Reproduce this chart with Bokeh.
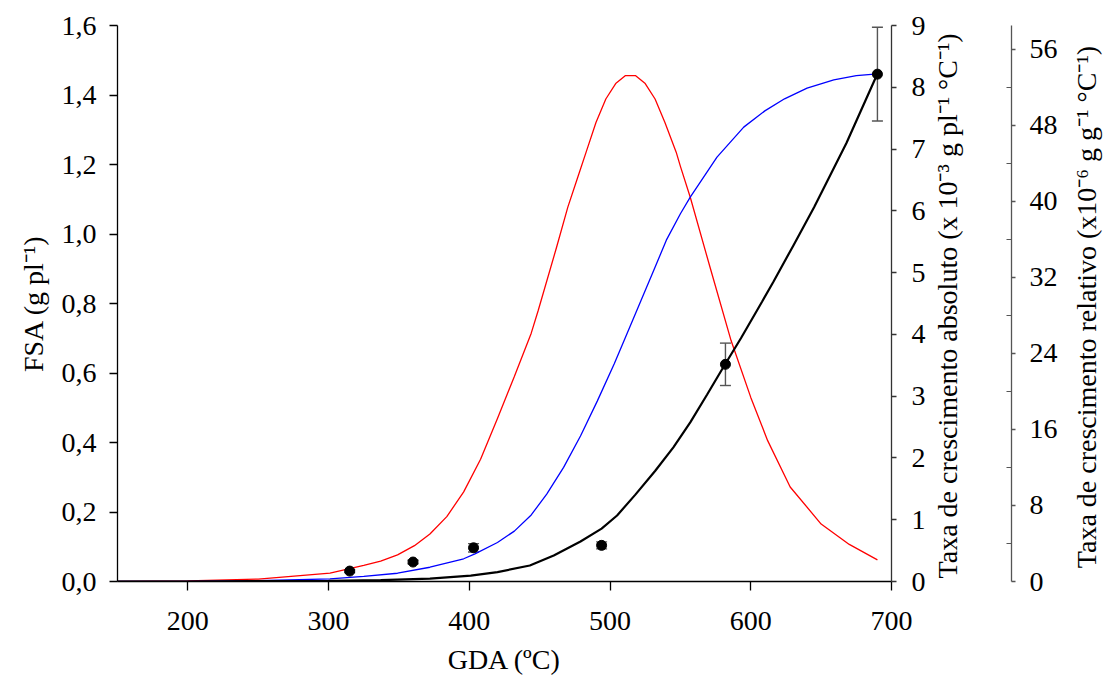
import math
from bokeh.plotting import figure
from bokeh.models import (LinearAxis, Range1d, FixedTicker, CustomJSTickFormatter,
                          ColumnDataSource, Whisker, TeeHead)
from bokeh.embed import file_html
from bokeh.resources import INLINE

# ---- data ----
# fitted FSA curve (g pl-1), left axis
gda_fit_fsa = [150, 200, 250, 300, 337, 372, 401, 420, 443, 460, 479, 494, 505, 518,
               532, 545, 557, 569, 581, 593, 608, 616, 630, 645, 668, 690]
fsa_fit = [0.000, 0.000, 0.001, 0.002, 0.004, 0.008, 0.017, 0.027, 0.046, 0.075, 0.115,
           0.152, 0.190, 0.250, 0.318, 0.386, 0.458, 0.538, 0.620, 0.700, 0.805, 0.862,
           0.965, 1.077, 1.262, 1.461]

# absolute growth rate (x10-3 g pl-1 C-1), right axis 1
gda_fit_tca = [150, 200, 250, 301, 325, 337, 349, 361, 372, 384, 396, 408, 420, 432, 444,
               449, 462, 470, 477, 483, 490, 497, 504, 511, 518, 525, 532, 539, 547, 550,
               557, 571, 586, 600, 612, 628, 650, 670, 690]
tca_fit = [0.00, 0.01, 0.04, 0.134, 0.26, 0.33, 0.43, 0.58, 0.77, 1.05, 1.45, 1.98, 2.64,
           3.32, 4.02, 4.39, 5.41, 6.06, 6.54, 6.95, 7.43, 7.81, 8.06, 8.19, 8.19, 8.06,
           7.81, 7.43, 6.95, 6.72, 6.22, 5.09, 3.90, 2.98, 2.28, 1.53, 0.93, 0.60, 0.35]

# relative growth rate (x10-6 g g-1 C-1), right axis 2
gda_fit_tcr = [150, 200, 250, 301, 325, 349, 372, 396, 404, 420, 432, 444, 455, 467, 479,
               491, 503, 510, 522, 531, 540, 550, 557, 576, 595, 610, 624, 640, 659, 675,
               690]
tcr_fit = [0.0, 0.02, 0.08, 0.28, 0.53, 0.87, 1.5, 2.39, 2.9, 4.1, 5.3, 7.0, 9.2, 12.0,
           15.3, 19.0, 22.9, 25.35, 29.56, 32.7, 35.9, 38.68, 40.42, 44.63, 47.79, 49.5,
           50.77, 51.9, 52.77, 53.2, 53.4]

# observed FSA with error
gda_obs = [315, 360, 403, 494, 582, 690]
fsa_obs = [0.030, 0.056, 0.097, 0.104, 0.625, 1.460]
fsa_err = [0.004, 0.005, 0.012, 0.010, 0.061, 0.135]

x_ticks = [200, 300, 400, 500, 600, 700]
fsa_ticks = [0.0, 0.2, 0.4, 0.6, 0.8, 1.0, 1.2, 1.4, 1.6]
tca_ticks = [0, 1, 2, 3, 4, 5, 6, 7, 8, 9]
tcr_ticks = [0, 8, 16, 24, 32, 40, 48, 56]
tcr_minor = [4, 12, 20, 28, 36, 44, 52]

title_abs = "Taxa de crescimento absoluto (x 10\u207b\u00b3 g pl\u207b\u00b9 \u00b0C\u207b\u00b9)"
title_rel = "Taxa de crescimento relativo (x10\u207b\u2076 g g\u207b\u00b9 \u00b0C\u207b\u00b9)"

X0, X1 = 150, 700
FW, FH = 774, 556

FONT = "Liberation Serif"
TICK_FS = "28px"
LAB_FS = "28px"
RLAB_FS = "28px"

p = figure(frame_width=FW, frame_height=FH,
           x_range=Range1d(X0, X1), y_range=Range1d(0, 1.6),
           output_backend="svg", toolbar_location=None,
           min_border_left=117, min_border_top=25, min_border_bottom=96,
           min_border_right=0)
p.extra_y_ranges = {"abs": Range1d(0, 9), "rel": Range1d(0, 58.48)}
p.grid.visible = False
p.outline_line_color = None


def style(ax, color="black"):
    ax.axis_line_color = color
    ax.major_tick_line_color = color
    ax.minor_tick_line_color = color
    ax.axis_line_width = 1.3
    ax.major_tick_line_width = 1.3
    ax.minor_tick_line_width = 1.2
    ax.major_label_text_font = FONT
    ax.major_label_text_font_size = TICK_FS
    ax.major_label_text_color = "black"
    ax.axis_label_text_font = FONT
    ax.axis_label_text_font_size = LAB_FS
    ax.axis_label_text_font_style = "normal"
    ax.axis_label_text_color = "black"
    ax.minor_tick_in = 0
    ax.minor_tick_out = 0
    ax.major_tick_in = 0


def bare(ax):
    ax.axis_line_color = None
    ax.major_tick_out = 0
    ax.major_tick_in = 0
    ax.minor_tick_out = 0
    ax.minor_tick_in = 0


def spacer(gap):
    s = LinearAxis(y_range_name="abs", ticker=FixedTicker(ticks=[]))
    bare(s)
    s.major_label_text_font_size = "1px"
    s.major_label_standoff = 0
    s.axis_label = " "
    s.axis_label_text_font_size = "10px"
    s.axis_label_standoff = gap
    return s


def title_axis(range_name, start, text, standoff):
    # an axis whose only tick label is the (bottom-to-top) title text
    a = LinearAxis(y_range_name=range_name, ticker=FixedTicker(ticks=[start]),
                   formatter=CustomJSTickFormatter(args=dict(t=text), code="return t;"))
    bare(a)
    a.major_label_orientation = math.pi / 2
    a.major_label_standoff = standoff
    a.major_label_text_font = FONT
    a.major_label_text_font_size = RLAB_FS
    a.major_label_text_color = "black"
    return a


# curves
p.line(gda_fit_tca, tca_fit, y_range_name="abs", line_color="#ff0000", line_width=1.3)
p.line(gda_fit_tcr, tcr_fit, y_range_name="rel", line_color="#0000ff", line_width=1.3)
p.line(gda_fit_fsa, fsa_fit, line_color="black", line_width=2.2)

src = ColumnDataSource(dict(
    x=gda_obs, y=fsa_obs,
    upper=[v + e for v, e in zip(fsa_obs, fsa_err)],
    lower=[v - e for v, e in zip(fsa_obs, fsa_err)],
))
ecol = "#555555"
w = Whisker(source=src, base="x", upper="upper", lower="lower",
            line_color=ecol, line_width=1.4,
            upper_head=TeeHead(size=11, line_color=ecol, line_width=1.4),
            lower_head=TeeHead(size=11, line_color=ecol, line_width=1.4))
p.add_layout(w)
p.scatter("x", "y", source=src, size=10, color="black")

# left axis
ya = p.yaxis[0]
style(ya)
ya.ticker = FixedTicker(ticks=fsa_ticks)
ya.formatter = CustomJSTickFormatter(code="return tick.toFixed(1).replace('.', ',');")
ya.major_tick_out = 8
ya.major_label_standoff = 13
ya.axis_label = "FSA (g pl\u207b\u00b9)"
ya.axis_label_standoff = 10

# bottom axis
xa = p.xaxis[0]
style(xa)
xa.ticker = FixedTicker(ticks=x_ticks)
xa.major_tick_out = 9
xa.major_label_standoff = 21
xa.axis_label = "GDA (\u00baC)"
xa.axis_label_standoff = 11

# right axis 1
ax1 = LinearAxis(y_range_name="abs", ticker=FixedTicker(ticks=tca_ticks))
style(ax1, "#333333")
ax1.major_tick_out = 5
ax1.major_label_standoff = 15

# right axis 2
ax2 = LinearAxis(y_range_name="rel", ticker=FixedTicker(ticks=tcr_ticks, minor_ticks=tcr_minor))
style(ax2, "#555555")
ax2.major_tick_out = 4
ax2.minor_tick_in = 5
ax2.major_label_standoff = 14

p.add_layout(ax1, "right")
p.add_layout(title_axis("abs", 0.05, title_abs, 19), "right")
p.add_layout(spacer(16), "right")
p.add_layout(ax2, "right")
p.add_layout(title_axis("rel", 1.4, title_rel, 26), "right")

open("out.html", "w").write(file_html(p, INLINE))
